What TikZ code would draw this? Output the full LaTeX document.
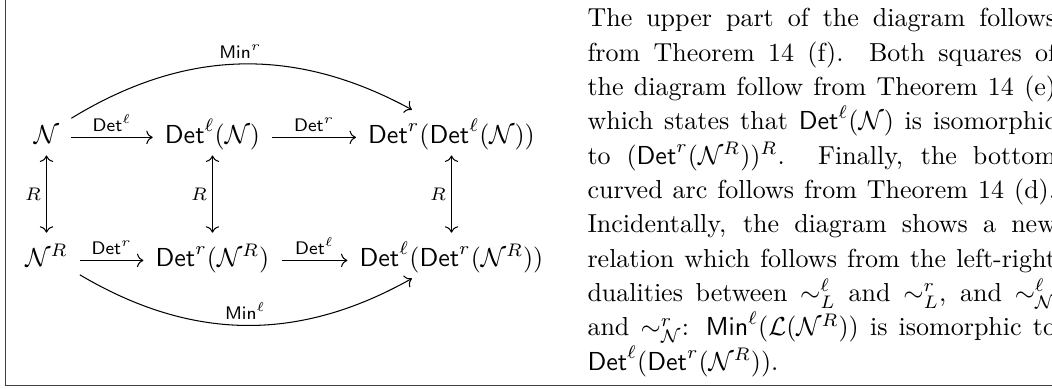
\documentclass[tikz,border=0pt]{standalone}
\usetikzlibrary{arrows.meta}
\tikzset{
  cd obj/.style={
    anchor=base, inner xsep=4.5pt, inner ysep=1.6pt,
    text height=11pt, text depth=3pt
  },
  cd arrow/.style={
    -{Computer Modern Rightarrow}, line width=0.4pt
  },
  cd both/.style={
    {Computer Modern Rightarrow}-{Computer Modern Rightarrow}, line width=0.4pt
  },
  cd label/.style={
    inner sep=2pt
  },
  frame line/.style={
    draw=black!75, line width=0.6pt
  },
  side text/.style={
    anchor=north west, text width=180.2pt, inner sep=0pt, align=justify,
    font=\fontsize{10}{13.2}\selectfont
  }
}

\begin{document}
\begin{tikzpicture}[x=0.3846pt, y=-0.3846pt]
  \useasboundingbox (0,0) rectangle (1052,389);
  \clip (0,0) rectangle (1052,389);
  \draw [frame line] (5.5,-0.3) rectangle (1080,385.6);

  % objects of the square
  \node (N) [cd obj] at (46.5,143) {$\mathcal{N}$};
  \node (DlN) [cd obj] at (212.5,143) {$\mathsf{Det}^\ell(\mathcal{N})$};
  \node (DrDlN) [cd obj] at (451.5,143) {$\mathsf{Det}^r(\mathsf{Det}^\ell(\mathcal{N}))$};
  \node (NR) [cd obj] at (46.5,266) {$\mathcal{N}^R$};
  \node (DrNR) [cd obj] at (212.5,266) {$\mathsf{Det}^r(\mathcal{N}^R)$};
  \node (DlDrNR) [cd obj] at (451.5,266) {$\mathsf{Det}^\ell(\mathsf{Det}^r(\mathcal{N}^R))$};

  % arrows
  \draw [cd arrow] (N.mid east) -- node [cd label, above] {$\scriptstyle\mathsf{Det}^\ell$} (DlN.mid west);
  \draw [cd arrow] (DlN.mid east) -- node [cd label, above] {$\scriptstyle\mathsf{Det}^r$} (DrDlN.mid west);
  \draw [cd arrow] (NR.mid east) -- node [cd label, above] {$\scriptstyle\mathsf{Det}^r$} (DrNR.mid west);
  \draw [cd arrow] (DrNR.mid east) -- node [cd label, above] {$\scriptstyle\mathsf{Det}^\ell$} (DlDrNR.mid west);
  \draw [cd both] (N) -- node [cd label, left] {$\scriptstyle R$} (NR);
  \draw [cd both] (DlN) -- node [cd label, left] {$\scriptstyle R$} (DrNR);
  \draw [cd both] (DrDlN) -- node [cd label, left] {$\scriptstyle R$} (DlDrNR);
  \draw [cd arrow] (N) to [bend left=30] node [cd label, above] {$\scriptstyle\mathsf{Min}^r$} (DrDlN);
  \draw [cd arrow] (NR) to [bend right=30] node [cd label, above] {$\scriptstyle\mathsf{Min}^\ell$} (DlDrNR);

  % explanation beside the diagram
  \node (expl) [side text] at (587,8) {%
    The upper part of the diagram follows\linebreak
    from Theorem 14 (f). Both squares of\linebreak
    the diagram follow from Theorem 14 (e)\linebreak
    which states that $\mathsf{Det}^\ell(\mathcal{N})$ is isomorphic\linebreak
    to $(\mathsf{Det}^r(\mathcal{N}^R))^R$. Finally, the bottom\linebreak
    curved arc follows from Theorem 14 (d).\linebreak
    Incidentally, the diagram shows a new\linebreak
    relation which follows from the left-right\linebreak
    dualities between $\sim^\ell_L$ and $\sim^r_L$, and $\sim^\ell_{\mathcal{N}}$\linebreak
    and $\sim^r_{\mathcal{N}}$: $\mathsf{Min}^\ell(\mathcal{L}(\mathcal{N}^R))$ is isomorphic to\linebreak
    $\mathsf{Det}^\ell(\mathsf{Det}^r(\mathcal{N}^R))$.};
\end{tikzpicture}
\end{document}
